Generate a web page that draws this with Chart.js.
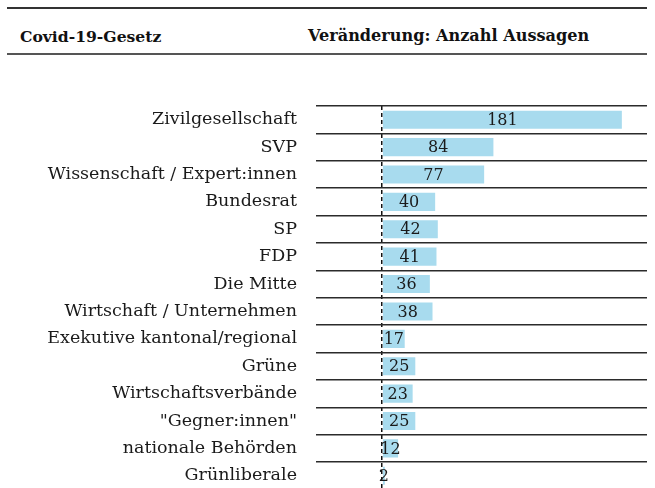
<!DOCTYPE html>
<html lang="de">
<head>
    <meta charset="UTF-8">
    <title>Covid-19-Gesetz - Veränderung: Anzahl Aussagen</title>
    <script src="https://cdn.jsdelivr.net/npm/chart.js@4"></script>
    <style>
        html, body { margin: 0; padding: 0; background: #fff; overflow: hidden; }
        #wrap { position: relative; width: 655px; height: 488px; overflow: hidden; }
        .rule { position: absolute; left: 7px; width: 640px; background: #333; }
        .head { position: absolute; top: 27px; font: bold 15.6px "DejaVu Serif", serif; color: #111; white-space: nowrap; }
        #chart { position: absolute; left: 0; top: 0; }
    </style>
</head>
<body>
<div id="wrap">
    <div class="rule" style="top:7px;height:1.5px;"></div>
    <div class="head" style="left:20px;">Covid-19-Gesetz</div>
    <div class="head" style="left:308px;font-size:16.1px;top:26px;">Veränderung: Anzahl Aussagen</div>
    <div class="rule" style="top:53px;height:2px;background:#555;"></div>
    <canvas id="chart" width="655" height="519"></canvas>
</div>

<script type="text/javascript">
    // Akteure und Anzahl Aussagen
    var categories = ['Zivilgesellschaft', 'SVP', 'Wissenschaft / Expert:innen', 'Bundesrat', 'SP', 'FDP',
        'Die Mitte', 'Wirtschaft / Unternehmen', 'Exekutive kantonal/regional', 'Grüne',
        'Wirtschaftsverbände', '"Gegner:innen"', 'nationale Behörden', 'Grünliberale'];
    var values = [181, 84, 77, 40, 42, 41, 36, 38, 17, 25, 23, 25, 12, 2];
    var xMin = -50;
    var xMax = 200;

    var font = '"DejaVu Serif", serif';

    // Zahlen mittig in die Balken schreiben
    var valueLabels = {
        id: 'valueLabels',
        afterDatasetsDraw: function (chart) {
            var ctx = chart.ctx;
            var meta = chart.getDatasetMeta(0);
            ctx.save();
            ctx.font = '16px ' + font;
            ctx.fillStyle = '#1a1a1a';
            ctx.textAlign = 'center';
            ctx.textBaseline = 'middle';
            meta.data.forEach(function (bar, i) {
                ctx.fillText(String(values[i]), (bar.x + bar.base) / 2, bar.y + 1);
            });
            ctx.restore();
        }
    };

    new Chart(document.getElementById('chart').getContext('2d'), {
        type: 'bar',
        data: {
            labels: categories,
            datasets: [{
                data: values,
                backgroundColor: '#a8dbee',
                borderWidth: 0,
                categoryPercentage: 1,
                barPercentage: 0.66
            }]
        },
        options: {
            indexAxis: 'y',
            responsive: false,
            animation: false,
            layout: {padding: {top: 106, right: 8, left: 0, bottom: 0}},
            plugins: {legend: {display: false}, tooltip: {enabled: false}},
            scales: {
                x: {
                    min: xMin,
                    max: xMax,
                    afterBuildTicks: function (scale) {
                        scale.ticks = [{value: 0}];
                    },
                    afterFit: function (scale) {
                        scale.height = 0;
                    },
                    ticks: {display: false},
                    grid: {color: '#111', lineWidth: 1.5, drawTicks: false},
                    border: {display: false, dash: [4, 3]}
                },
                y: {
                    afterFit: function (scale) {
                        scale.width = 316;
                    },
                    ticks: {
                        padding: 19,
                        color: '#1a1a1a',
                        font: {family: font, size: 17.5}
                    },
                    grid: {color: '#2b2b2b', lineWidth: 1.5, drawTicks: false, offset: true},
                    border: {display: false}
                }
            }
        },
        plugins: [valueLabels]
    });
</script>
</body>
</html>
